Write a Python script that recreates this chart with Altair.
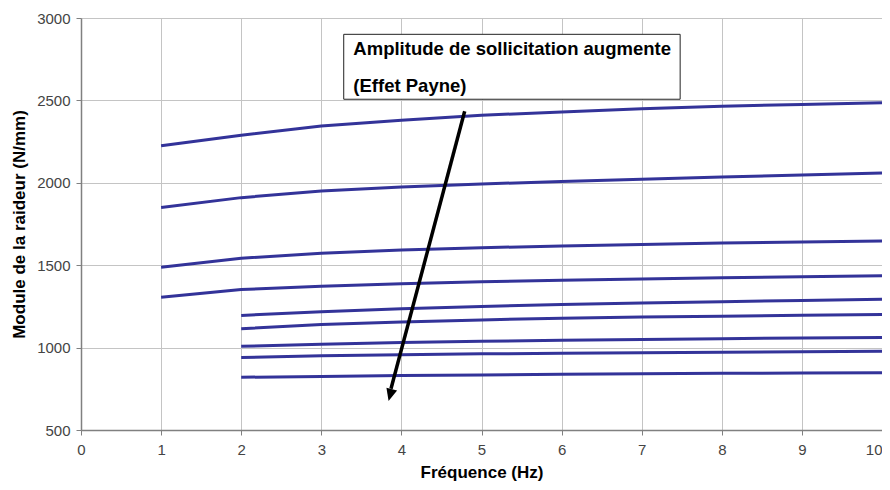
import altair as alt
import pandas as pd

# Frequencies (Hz)
freq_a = [1, 2, 3, 4, 5, 6, 7, 8, 9, 10]
freq_b = [2, 3, 4, 5, 6, 7, 8, 9, 10]

# Stiffness modulus series (N/mm), top to bottom
s1 = [2225, 2288, 2345, 2380, 2410, 2430, 2450, 2465, 2475, 2485]
s2 = [1850, 1910, 1950, 1975, 1993, 2008, 2022, 2035, 2048, 2060]
s3 = [1487, 1542, 1572, 1592, 1606, 1617, 1626, 1634, 1641, 1647]
s4 = [1305, 1352, 1372, 1387, 1399, 1409, 1417, 1424, 1430, 1436]
s5 = [1195, 1218, 1236, 1250, 1261, 1270, 1278, 1286, 1294]
s6 = [1115, 1140, 1156, 1168, 1178, 1185, 1190, 1196, 1201]
s7 = [1008, 1021, 1031, 1038, 1044, 1049, 1054, 1058, 1062]
s8 = [940, 950, 957, 962, 966, 969, 972, 975, 978]
s9 = [820, 825, 830, 834, 838, 841, 844, 846, 848]

series_a = [s1, s2, s3, s4]
series_b = [s5, s6, s7, s8, s9]

x_ticks = [0, 1, 2, 3, 4, 5, 6, 7, 8, 9, 10]
y_ticks = [500, 1000, 1500, 2000, 2500, 3000]

# Annotation
note_lines = ["Amplitude de sollicitation augmente", "(Effet Payne)"]
note_x = [3.40, 3.40]
note_y = [2812, 2590]
box_x = [3.28, 7.48]
box_y = [2507, 2901]
arrow_start = [4.79, 2434]
arrow_tip = [3.84, 676]
arrow_neck = [3.87, 750]

rows = []
sid = 0
for s in series_a:
    for f, v in zip(freq_a, s):
        rows.append({"serie": sid, "f": f, "k": v})
    sid += 1
for s in series_b:
    for f, v in zip(freq_b, s):
        rows.append({"serie": sid, "f": f, "k": v})
    sid += 1
df = pd.DataFrame(rows)

FONT = "Liberation Sans"
xscale = alt.Scale(domain=[0, 10], nice=False)
yscale = alt.Scale(domain=[500, 3000], nice=False)

lines = alt.Chart(df).mark_line(color="#333399", strokeWidth=3).encode(
    x=alt.X("f:Q", scale=xscale,
            axis=alt.Axis(title="Fréquence (Hz)", values=x_ticks, format="d",
                          labelAlign=alt.expr("datum.value == 10 ? 'right' : 'center'"))),
    y=alt.Y("k:Q", scale=yscale,
            axis=alt.Axis(title="Module de la raideur (N/mm)", values=y_ticks, format="d")),
    detail="serie:N",
)

box_df = pd.DataFrame({"x": [box_x[0]], "x2": [box_x[1]], "y": [box_y[0]], "y2": [box_y[1]]})
box = alt.Chart(box_df).mark_rect(fill="white", stroke="#222222", strokeWidth=1).encode(
    x=alt.X("x:Q", scale=xscale), x2="x2:Q",
    y=alt.Y("y:Q", scale=yscale), y2="y2:Q",
)

text_df = pd.DataFrame({"t": note_lines, "x": note_x, "y": note_y})
text = alt.Chart(text_df).mark_text(
    align="left", baseline="middle", font=FONT, fontSize=18.5, fontWeight="bold", color="black"
).encode(
    x=alt.X("x:Q", scale=xscale), y=alt.Y("y:Q", scale=yscale), text="t:N"
)

arrow_df = pd.DataFrame({"x": [arrow_start[0]], "y": [arrow_start[1]],
                         "x2": [arrow_neck[0]], "y2": [arrow_neck[1]]})
arrow_line = alt.Chart(arrow_df).mark_rule(color="black", strokeWidth=3.5).encode(
    x=alt.X("x:Q", scale=xscale), y=alt.Y("y:Q", scale=yscale), x2="x2:Q", y2="y2:Q"
)

head_df = pd.DataFrame({"x": [arrow_tip[0]], "y": [arrow_tip[1]]})
arrow_head = alt.Chart(head_df).mark_point(
    shape="M0,0L0.45,1L-0.45,1Z", filled=True, color="black", size=600, angle=195, opacity=1
).encode(x=alt.X("x:Q", scale=xscale), y=alt.Y("y:Q", scale=yscale))

chart = alt.layer(lines, box, text, arrow_line, arrow_head).properties(
    width=801, height=412,
    autosize=alt.AutoSizeParams(type="none"),
    padding={"left": 73, "top": 10, "right": 0, "bottom": 52},
).configure_view(stroke=None, fill="white").configure_axis(
    gridColor="#C4C4C4", gridWidth=1,
    domainColor="#808080", domainWidth=1.5,
    tickColor="#808080", tickSize=5, tickWidth=1,
    labelFont=FONT, labelFontSize=15, labelColor="#444444",
    titleFont=FONT, titleFontSize=17, titleFontWeight="bold", titleColor="black",
).configure_axisX(labelPadding=7, titlePadding=7, labelFlush=False).configure_axisY(
    labelPadding=6, titlePadding=8
)

chart.save("out.html", embed_options={"renderer": "svg", "actions": False})
